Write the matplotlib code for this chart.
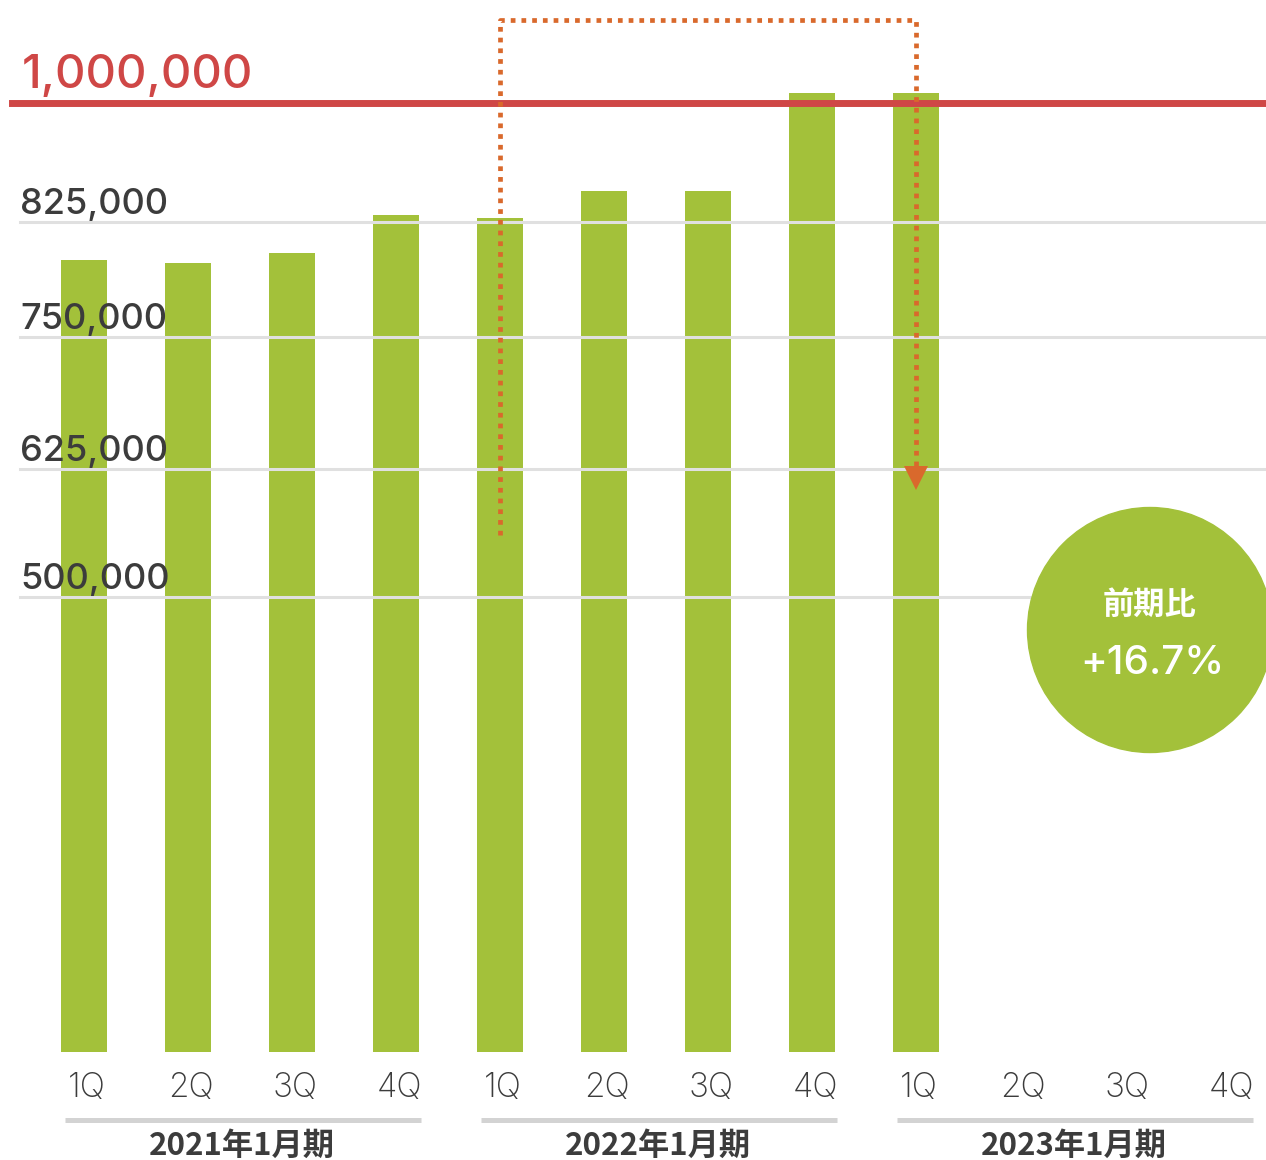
#!/usr/bin/env python3
"""Quarterly bars against the 1,000,000 target line."""

import numpy as np
import matplotlib
matplotlib.use('Agg')
import matplotlib.pyplot as plt
from matplotlib.patches import Ellipse, Polygon

plt.rcParams['font.family'] = ['Noto Sans CJK JP', 'DejaVu Sans']
LATIN = ['Inter', 'Noto Sans CJK JP']

# data
quarters = ['1Q', '2Q', '3Q', '4Q'] * 3
years = ['2021年1月期', '2022年1月期', '2023年1月期']
values = [800000, 798000, 805000, 835000, 831000, 870000, 870000, 1015000, 1015000]
tick_values = [500000, 625000, 750000, 825000]
tick_labels = ['500,000', '625,000', '750,000', '825,000']
target = 1000000
target_label = '1,000,000'
badge_title = '前期比'
badge_value = '+16.7%'

GREEN = '#A3C13A'
RED = '#CF4746'
ORANGE = '#D9692C'
GRID = '#E0E0E0'
TEXT = '#3C3C3C'

W, H = 1266, 1160

# the axis is not linear: piecewise between the labelled ticks
knot_v = np.array([-118700, 0, 500000, 625000, 750000, 825000, 1000000, 1151500])
knot_p = np.array([0, 108, 563, 691, 823, 938, 1057, 1160])


def forward(v):
    return np.interp(v, knot_v, knot_p)


def inverse(p):
    return np.interp(p, knot_p, knot_v)


fig = plt.figure(figsize=(W / 100, H / 100), dpi=100)
ax = fig.add_axes([0, 0, 1, 1])
ax.set_yscale('function', functions=(forward, inverse))
ax.set_xlim(-84 / 104, (W - 84) / 104)
ax.set_ylim(knot_v[0], knot_v[-1])
ax.axis('off')

x = np.arange(len(values))
ax.bar(x, values, width=46 / 104, color=GREEN, zorder=2)

# gridlines over the bars, labels sitting on them
for v, lab in zip(tick_values, tick_labels):
    ax.axhline(v, xmin=20 / W, xmax=1, color=GRID, lw=2.2, zorder=3)
    ax.annotate(lab, (20 / W, v), xycoords=ax.get_yaxis_transform(),
                xytext=(0, 6), textcoords='offset points', family=LATIN,
                va='baseline', ha='left', fontsize=26, fontweight='medium',
                color=TEXT, zorder=4)

# target line
ax.axhline(target, xmin=12 / W, xmax=1, color=RED, lw=5, zorder=4)
ax.annotate(target_label, (22 / W, target), xycoords=ax.get_yaxis_transform(),
            xytext=(0, 11), textcoords='offset points', family=LATIN,
            va='baseline', ha='left', fontsize=34, fontweight='medium',
            color=RED, zorder=4)

# dotted bracket from 1Q 2022 to 1Q 2023
top = inverse(1160 - 20)
ax.plot([4, 4, 8, 8], [inverse(1160 - 535), top, top, inverse(1160 - 466)],
        color=ORANGE, lw=3.4, linestyle=(0, (1, 1.27)), zorder=5)
ax.add_patch(Polygon([(8 - 12 / 104, inverse(1160 - 466)),
                      (8 + 12 / 104, inverse(1160 - 466)),
                      (8, inverse(1160 - 490))],
                     closed=True, color=ORANGE, lw=0, zorder=5))

# category labels and year brackets
xt = ax.get_xaxis_transform()
for i, q in enumerate(quarters):
    ax.text(i + 0.03, 1 - 1088 / H, q, transform=xt, ha='center', va='center',
            family=LATIN, fontsize=24, fontweight='light', color=TEXT)
for g, yr in enumerate(years):
    x0 = g * 4
    ax.plot([x0 - 0.18, x0 + 3.24], [1 - 1120 / H] * 2, transform=xt,
            color='#D3D3D3', lw=3.6, solid_capstyle='butt', clip_on=False)
    ax.text(x0 + 1.52, 1 - 1146 / H, yr, transform=xt, ha='center',
            va='center', fontsize=22.5, fontweight='bold', color=TEXT)

# badge
cx, cy, r = 1150, 630, 122.5
fig.add_artist(Ellipse((cx / W, 1 - cy / H), 2 * r / W, 2 * r / H,
                       transform=fig.transFigure, color=GREEN, zorder=6))
fig.text(cx / W, 1 - 605 / H, badge_title, ha='center', va='center',
         fontsize=22.5, fontweight='bold', color='white', zorder=7)
fig.text(cx / W + 0.002, 1 - 663 / H, badge_value, ha='center', va='center',
         family=LATIN, fontsize=29, fontweight='medium', color='white', zorder=7)

fig.savefig('out.png', dpi=100)
